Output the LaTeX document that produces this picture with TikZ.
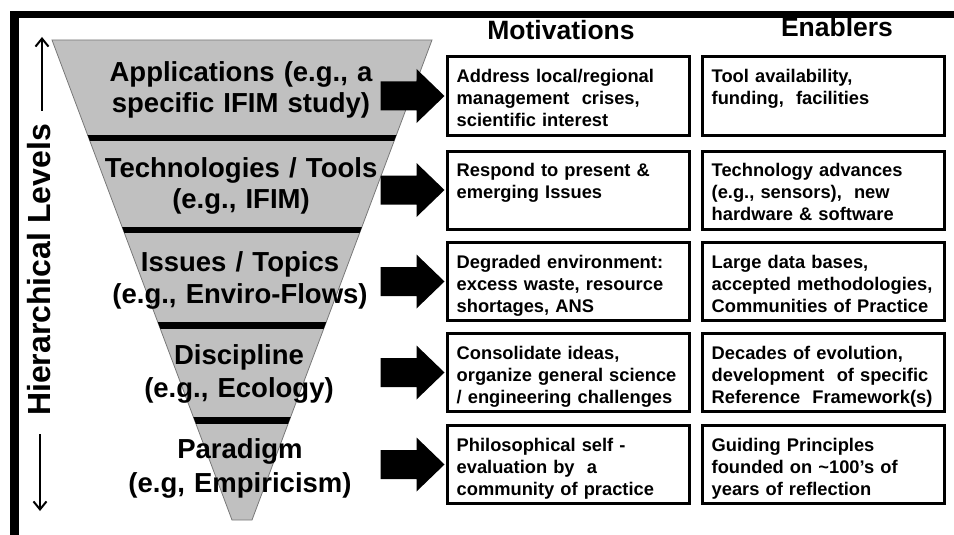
\documentclass[tikz,border=0pt]{standalone}
\usepackage{fontspec}
\setmainfont{Liberation Sans}
\usetikzlibrary{arrows.meta,calc}
\definecolor{trigray}{RGB}{192,192,192}
\definecolor{tririm}{RGB}{120,120,120}
\newcommand{\fatarrow}[1]{%
  \fill[black] ([xshift=-65pt,yshift=14.5pt]#1.west) -- ([xshift=-29pt,yshift=14.5pt]#1.west)
    -- ([xshift=-29pt,yshift=27pt]#1.west) -- ([xshift=-1pt]#1.west)
    -- ([xshift=-29pt,yshift=-27pt]#1.west) -- ([xshift=-29pt,yshift=-14.5pt]#1.west)
    -- ([xshift=-65pt,yshift=-14.5pt]#1.west) -- cycle;}
\begin{document}
\begin{tikzpicture}[x=1pt,y=-1pt,
  lvl/.style={font=\fontsize{27.5}{31}\bfseries\selectfont, text width=330pt, align=center, inner sep=0pt, anchor=base},
  hdr/.style={font=\fontsize{26.5}{30}\bfseries\selectfont, inner sep=0pt, anchor=base},
  cellbox/.style={draw=black, line width=3pt, minimum width=242pt, minimum height=78pt, inner sep=0pt, fill=white},
  celltext/.style={font=\fontsize{18.3}{22.2}\bfseries\selectfont, text width=230pt, align=left, inner sep=0pt, anchor=base west},
  band/.style={fill=black},
  levelarrow/.style={line width=2pt, -{Straight Barb[length=8pt,width=13pt]}},
]
\useasboundingbox (0,0) rectangle (954,535);
% frame bands
\fill[band] (10,11) rectangle (954,18.5);
\fill[band] (10,11) rectangle (18.5,535);
% inverted triangle
\coordinate (tl) at (52,40);
\coordinate (tr) at (432,40);
\coordinate (br) at (252,520);
\coordinate (bl) at (232,520);
\path[fill=trigray, draw=tririm, line width=0.8pt] (tl) -- (tr) -- (br) -- (bl) -- cycle;
\begin{scope}
  \clip (tl) -- (tr) -- (br) -- (bl) -- cycle;
  \foreach \yy in {138,230,325.5,420.5} \fill[black] (0,\yy-3.2) rectangle (500,\yy+3.2);
\end{scope}
% level labels
\node[lvl] (l1) at (241,82) {Applications (e.g., a\\specific IFIM study)};
\node[lvl] (l2) at (241,177) {Technologies / Tools\\(e.g., IFIM)};
\node[lvl] (l3) at (240,271) {Issues / Topics\\[1pt](e.g., Enviro-Flows)};
\node[lvl] (l4) at (239,364) {Discipline\\[2pt](e.g., Ecology)};
\node[lvl] (l5) at (240,458) {Paradigm\\[3pt](e.g, Empiricism)};
% vertical axis label
\node[font=\fontsize{32}{36}\bfseries\selectfont, rotate=90, inner sep=0pt] (hl) at (39.5,270) {Hierarchical Levels};
\coordinate (uptip) at (42,37);
\coordinate (downtip) at (40,511);
\draw[levelarrow] ($(hl.east)+(2.5,-13)$) -- (uptip);
\draw[levelarrow] ($(hl.west)+(0.5,18)$) -- (downtip);
% headers
\node[hdr] (mot) at (561,39.5) {Motivations};
\node[hdr] (ena) at (837,37) {Enablers};
% boxes
\foreach \n/\yy in {1/96,2/190,3/281.5,4/372.5,5/464.5}{
  \node[cellbox] (m\n) at (568,\yy) {};
  \node[cellbox] (e\n) at (823,\yy) {};
}
\node[celltext] (m1t) at ([xshift=11pt,yshift=-27pt]m1.north west) {Address local/regional\\management~ crises,\\scientific interest};
\node[celltext] (e1t) at ([xshift=11pt,yshift=-27pt]e1.north west) {Tool availability,\\funding,~ facilities};
\node[celltext] (m2t) at ([xshift=11pt,yshift=-27pt]m2.north west) {Respond to present \&\\emerging Issues};
\node[celltext] (e2t) at ([xshift=11pt,yshift=-27pt]e2.north west) {Technology advances\\(e.g., sensors),~ new\\hardware \& software};
\node[celltext] (m3t) at ([xshift=11pt,yshift=-27pt]m3.north west) {Degraded environment:\\excess waste, resource\\shortages, ANS};
\node[celltext] (e3t) at ([xshift=11pt,yshift=-27pt]e3.north west) {Large data bases,\\accepted methodologies,\\Communities of Practice};
\node[celltext] (m4t) at ([xshift=11pt,yshift=-27pt]m4.north west) {Consolidate ideas,\\organize general science\\/ engineering challenges};
\node[celltext] (e4t) at ([xshift=11pt,yshift=-27pt]e4.north west) {Decades of evolution,\\development~ of specific\\Reference~ Framework(s)};
\node[celltext] (m5t) at ([xshift=11pt,yshift=-27pt]m5.north west) {Philosophical self -\\evaluation by~ a\\community of practice};
\node[celltext] (e5t) at ([xshift=11pt,yshift=-27pt]e5.north west) {Guiding Principles\\founded on \textasciitilde100's of\\years of reflection};
% fat arrows from levels to motivations
\foreach \n in {1,...,5}{\fatarrow{m\n}}
\end{tikzpicture}
\end{document}
